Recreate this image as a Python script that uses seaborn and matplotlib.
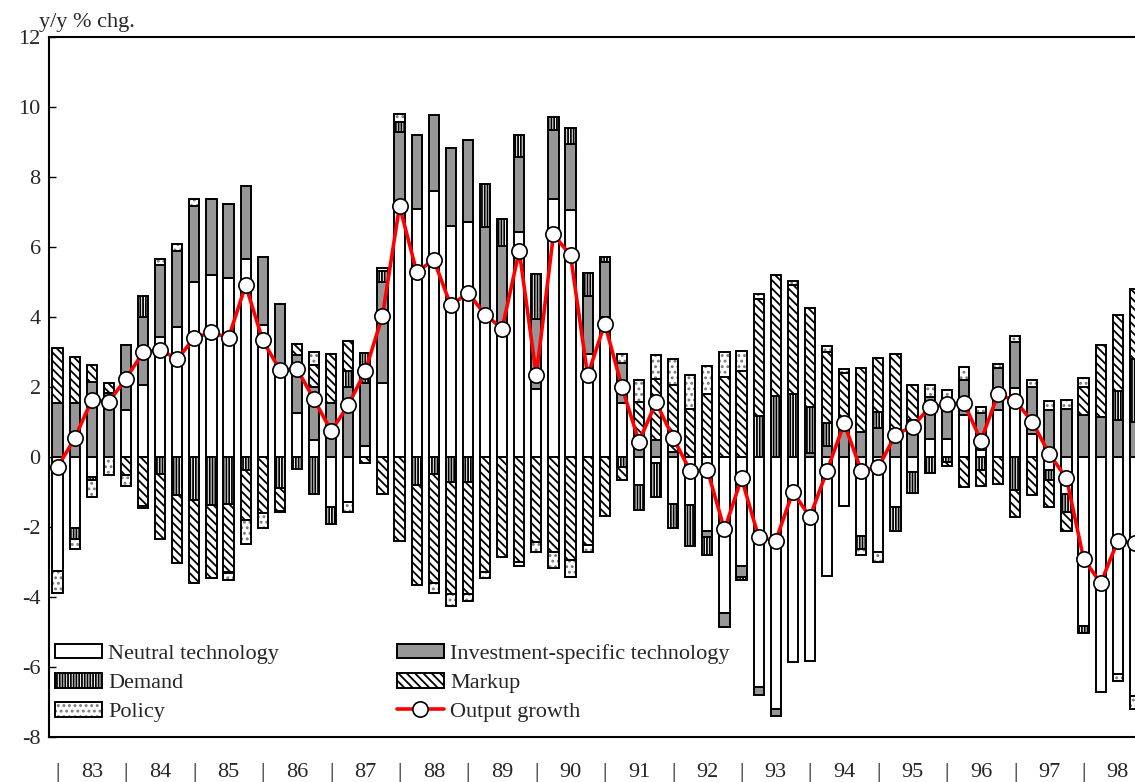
import numpy as np
import matplotlib
matplotlib.use("Agg")
import matplotlib.pyplot as plt
from matplotlib.patches import Patch
from matplotlib.lines import Line2D
import seaborn as sns

# contributions to y/y output growth, 1983Q1 - 1998Q4
years = ['83', '84', '85', '86', '87', '88', '89', '90',
         '91', '92', '93', '94', '95', '96', '97', '98']

neutral = [-3.26, -2.04, -0.56, 0.0, 1.34, 2.07, 3.43, 3.71, 5.0, 5.2, 5.1, 5.67,
           3.77, 2.47, 1.25, 0.49, -1.43, -1.29, 0.3, 2.12, 7.2, 7.1, 7.6, 6.6,
           6.71, 4.07, 3.71, 6.43, 1.93, 7.36, 7.07, 2.93, 4.0, 1.53, -0.8, -0.16,
           -1.34, -1.36, -2.11, -4.47, -3.11, -6.57, -7.21, -5.86, -5.83, -3.39, -1.4, -2.26,
           -2.71, -1.43, -0.42, 0.5, 0.5, 1.2, 0.21, 1.33, 1.96, 0.67, -0.36, -1.07,
           -4.83, -6.71, -6.21, -6.83]
invest = [1.53, 1.55, 2.15, 1.82, 1.87, 1.93, 2.07, 2.19, 2.17, 2.16, 2.14, 2.06,
          1.94, 1.89, 1.66, 1.52, 1.55, 2.0, 1.8, 2.88, 2.09, 2.11, 2.16, 2.24,
          2.36, 2.5, 2.32, 2.14, 2.0, 1.97, 1.86, 1.67, 1.57, 1.15, 0.6, 0.49,
          0.15, 0.0, -0.18, -0.39, -0.32, -0.22, -0.18, 0.0, 0.1, 0.31, 0.77, 0.71,
          0.82, 0.81, 1.06, 1.22, 1.15, 1.01, 1.04, 1.2, 1.33, 1.33, 1.34, 1.36,
          1.21, 1.14, 1.07, 1.0]
demand = [0.0, -0.29, -0.1, 0.0, 0.0, 0.6, -0.5, -1.1, -1.24, -1.36, -1.35, -0.36,
          0.0, -0.9, -0.35, -1.05, -0.47, 0.47, 0.86, 0.3, 0.28, -0.79, -0.5, -0.71,
          -0.71, 1.22, 0.76, 0.64, 1.31, 0.38, 0.46, 0.66, 0.14, -0.28, -0.71, -0.97,
          -0.7, -1.18, -0.5, 0.0, -0.07, 1.17, 1.74, 1.79, 1.33, 0.65, 0.0, -0.38,
          0.47, -0.67, -0.62, -0.45, -0.14, 0.0, -0.37, 0.0, -0.93, 0.0, -0.31, -0.5,
          -0.21, 0.0, 0.82, 1.79]
markup = [1.58, 1.31, 0.48, 0.28, -0.51, -1.4, -1.83, -1.94, -2.36, -2.11, -1.95, -1.43,
          -1.6, -0.63, 0.31, 0.62, 1.38, 0.85, -0.18, -1.07, -2.39, -2.88, -3.1, -3.19,
          -3.19, -3.29, -2.86, -3.0, -2.43, -2.71, -2.93, -2.5, -1.69, -0.38, 0.98, 1.73,
          1.91, 1.36, 1.79, 2.29, 2.46, 3.33, 3.45, 3.13, 2.83, 2.04, 1.63, 1.82,
          1.54, 2.12, 1.0, 0.0, -0.12, -0.87, -0.46, -0.76, -0.78, -1.09, -0.76, -0.54,
          0.79, 2.07, 2.18, 2.02]
policy = [-0.63, -0.31, -0.47, -0.52, -0.32, -0.05, 0.17, 0.2, 0.19, 0.0, -0.2, -0.71,
          -0.44, -0.05, 0.0, 0.37, 0.0, -0.28, 0.0, 0.09, 0.24, 0.0, -0.29, -0.36,
          -0.21, -0.17, 0.0, -0.11, -0.28, -0.46, -0.5, -0.21, 0.0, 0.26, 0.62, 0.69,
          0.73, 0.97, 0.82, 0.71, 0.58, 0.17, 0.0, 0.12, 0.0, 0.17, 0.1, -0.15,
          -0.29, 0.0, 0.0, 0.34, 0.25, 0.36, 0.19, 0.14, 0.17, 0.2, 0.27, 0.28,
          0.26, 0.0, -0.18, -0.36]
output = [-0.29, 0.53, 1.63, 1.58, 2.24, 2.99, 3.07, 2.79, 3.41, 3.56, 3.41, 4.91,
          3.33, 2.49, 2.51, 1.65, 0.74, 1.48, 2.46, 4.03, 7.17, 5.29, 5.63, 4.33,
          4.69, 4.07, 3.67, 5.89, 2.33, 6.36, 5.76, 2.33, 3.81, 2.01, 0.44, 1.56,
          0.55, -0.4, -0.37, -2.07, -0.61, -2.29, -2.39, -1.0, -1.71, -0.39, 0.96, -0.39,
          -0.3, 0.64, 0.87, 1.42, 1.5, 1.55, 0.47, 1.8, 1.61, 1.01, 0.08, -0.6,
          -2.9, -3.61, -2.4, -2.46]

sns.set_style("white")
plt.rcParams['font.family'] = ['Liberation Serif', 'DejaVu Serif']
plt.rcParams['axes.unicode_minus'] = False
plt.rcParams['hatch.linewidth'] = 1.3
plt.rcParams['hatch.color'] = 'black'

FS = 16

fig = plt.figure(figsize=(11.35, 7.82), dpi=100)
ax = fig.add_axes([49 / 1135, 1 - 737 / 782, 1094.4 / 1135, 700 / 782])

x = np.arange(len(output))
width = 0.6
edge = dict(edgecolor='black', linewidth=1.4)

series = [
    (neutral, dict(color='white')),
    (invest, dict(color='#969696')),
    (demand, dict(color='white', hatch='||||||')),
    (markup, dict(color='white', hatch='\\\\\\\\')),
    (policy, None),
]

pos_bottom = np.zeros(len(x))
neg_bottom = np.zeros(len(x))
for vals, style in series:
    v = np.array(vals)
    bottom = np.where(v >= 0, pos_bottom, neg_bottom)
    if style is None:
        # dotted fill in gray, then black outline on top
        ax.bar(x, v, width, bottom=bottom, color='white', edgecolor='#7a7a7a',
               hatch='...', linewidth=0, zorder=2)
        ax.bar(x, v, width, bottom=bottom, fill=False, zorder=2.1, **edge)
    else:
        ax.bar(x, v, width, bottom=bottom, zorder=2, **style, **edge)
    pos_bottom = pos_bottom + np.where(v > 0, v, 0)
    neg_bottom = neg_bottom + np.where(v < 0, v, 0)

sns.lineplot(x=x, y=output, ax=ax, color='red', linewidth=2.6, marker='o',
             markersize=11, markerfacecolor='white', markeredgecolor='black',
             markeredgewidth=1.2, zorder=5, legend=False)

ax.set_xlim(-0.5, 63.5)
ax.set_ylim(-8, 12)
ax.set_yticks(range(-8, 13, 2))
ax.set_yticklabels([str(t) for t in range(-8, 13, 2)])

# year labels separated by bars, boundary ticks between quarters
xt = np.arange(0, 64, 2)
xl = []
for i in range(len(xt)):
    xl.append('|' if i % 2 == 0 else years[i // 2])
ax.set_xticks(xt)
ax.set_xticklabels(xl)
ax.set_xticks(np.arange(-0.5, 64, 1), minor=True)
ax.tick_params(axis='x', which='major', length=0, pad=19, labelsize=FS)
ax.tick_params(axis='x', which='minor', direction='in', length=4, width=1, color='black')
ax.tick_params(axis='y', direction='in', length=5, width=1, color='black',
               pad=6, labelsize=FS, left=True)
ax.set_xlabel('')
ax.set_ylabel('')
for s in ax.spines.values():
    s.set_color('black')
    s.set_linewidth(1.5)

fig.text(39 / 1135, 1 - 22 / 782, 'y/y % chg.', fontsize=FS, va='center', ha='left')

h_neutral = Patch(facecolor='white', edgecolor='black', linewidth=1.4)
h_invest = Patch(facecolor='#969696', edgecolor='black', linewidth=1.4)
h_demand = Patch(facecolor='white', edgecolor='black', linewidth=1.4, hatch='||||||')
h_markup = Patch(facecolor='white', edgecolor='black', linewidth=1.4, hatch='\\\\\\\\')
h_policy = (Patch(facecolor='white', edgecolor='#7a7a7a', hatch='...', linewidth=0),
            Patch(fill=False, edgecolor='black', linewidth=1.4))
h_output = Line2D([], [], color='red', linewidth=2.6, marker='o', markersize=11,
                  markerfacecolor='white', markeredgecolor='black', markeredgewidth=1.2)

handles = [h_neutral, h_demand, h_policy, h_invest, h_markup, h_output]
labels = ['Neutral technology', 'Demand', 'Policy',
          'Investment-specific technology', 'Markup', 'Output growth']
ax.legend(handles, labels, ncol=2, loc='lower left', frameon=False,
          bbox_to_anchor=(55 / 1135, 1 - 722 / 782), bbox_transform=fig.transFigure,
          fontsize=FS, handlelength=2.1, handleheight=0.65, handletextpad=0.3,
          labelspacing=0.4, columnspacing=5.3, borderpad=0, borderaxespad=0)

fig.savefig('out.png', dpi=100)
